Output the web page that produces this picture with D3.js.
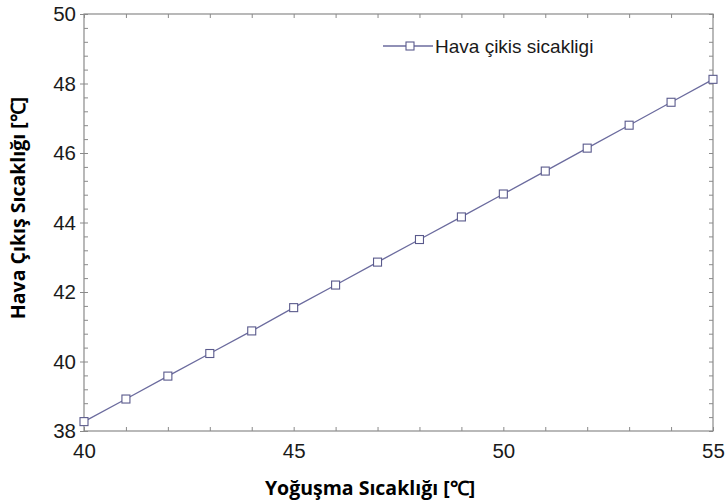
<!DOCTYPE html>
<html>
<head>
<meta charset="utf-8">
<script src="https://cdn.jsdelivr.net/npm/d3@7"></script>
<style>
  body { margin: 0; background: #fff; }
  svg { display: block; }
</style>
</head>
<body>
<div id="chart"></div>
<script>
// condensing temperature (x) vs air outlet temperature (y)
var condTemp = [40, 41, 42, 43, 44, 45, 46, 47, 48, 49, 50, 51, 52, 53, 54, 55]
var airOut = [38.27, 38.92, 39.58, 40.23, 40.88, 41.55, 42.2, 42.86, 43.51, 44.16, 44.82, 45.48, 46.14, 46.8, 47.46, 48.12]
var xTicks = [40, 45, 50, 55]
var yTicks = [38, 40, 42, 44, 46, 48, 50]
var seriesName = 'Hava çikis sicakligi'
var xTitle = 'Yoğuşma Sıcaklığı [℃]'
var yTitle = 'Hava Çıkış Sıcaklığı [℃]'

var W = 726, H = 504
var pLeft = 84, pRight = 713, pTop = 14, pBottom = 431
var axisCol = '#8a8a8a'
var lineCol = '#6b6b9e'

var svg = d3.select('#chart').append('svg')
  .attr('width', W)
  .attr('height', H)

var x = d3.scaleLinear().domain([40, 55]).range([pLeft, pRight])
var y = d3.scaleLinear().domain([38, 50]).range([pBottom, pTop])

var minorX = d3.range(40, 55.01, 1)
var minorY = d3.range(38, 50.01, 0.4)

// frame
svg.append('rect')
  .attr('x', pLeft).attr('y', pTop)
  .attr('width', pRight - pLeft).attr('height', pBottom - pTop)
  .attr('fill', 'none')
  .attr('stroke', axisCol)
  .attr('stroke-width', 1.2)

// axes, ticks pointing in
function styleAxis(g) {
  g.select('.domain').remove()
  g.selectAll('.tick line').attr('stroke', axisCol).attr('stroke-width', 1)
  g.selectAll('.tick text').remove()
}

svg.append('g').attr('transform', 'translate(0,' + pBottom + ')')
  .call(d3.axisBottom(x).tickValues(minorX).tickSizeInner(-4).tickSizeOuter(0))
  .call(styleAxis)
svg.append('g').attr('transform', 'translate(0,' + pTop + ')')
  .call(d3.axisTop(x).tickValues(minorX).tickSizeInner(-4).tickSizeOuter(0))
  .call(styleAxis)
svg.append('g').attr('transform', 'translate(' + pLeft + ',0)')
  .call(d3.axisLeft(y).tickValues(minorY).tickSizeInner(-4).tickSizeOuter(0))
  .call(styleAxis)
svg.append('g').attr('transform', 'translate(' + pRight + ',0)')
  .call(d3.axisRight(y).tickValues(minorY).tickSizeInner(-4).tickSizeOuter(0))
  .call(styleAxis)

// major ticks stick out a bit on the left
svg.append('g').attr('transform', 'translate(' + pLeft + ',0)')
  .call(d3.axisLeft(y).tickValues(yTicks).tickSizeInner(4).tickSizeOuter(0).tickPadding(4))
  .call(function(g) {
    g.select('.domain').remove()
    g.selectAll('.tick line').attr('stroke', axisCol)
    g.selectAll('.tick text')
      .attr('fill', '#1a1a1a')
      .style('font-family', 'Liberation Sans, Arial, sans-serif')
      .style('font-size', '20.5px')
  })

svg.append('g').attr('transform', 'translate(0,' + pBottom + ')')
  .call(d3.axisBottom(x).tickValues(xTicks).tickSize(0).tickPadding(12))
  .call(function(g) {
    g.select('.domain').remove()
    g.selectAll('.tick text')
      .attr('fill', '#1a1a1a')
      .style('font-family', 'Liberation Sans, Arial, sans-serif')
      .style('font-size', '20.5px')
  })

// series
var pts = condTemp.map((d, i) => ({x: d, y: airOut[i]}))

svg.append('path')
  .datum(pts)
  .attr('fill', 'none')
  .attr('stroke', lineCol)
  .attr('stroke-width', 1.3)
  .attr('d', d3.line().x(d => x(d.x)).y(d => y(d.y)))

svg.selectAll('.mk')
  .data(pts)
  .enter()
  .append('rect')
  .attr('class', 'mk')
  .attr('x', d => x(d.x) - 4)
  .attr('y', d => y(d.y) - 4)
  .attr('width', 8)
  .attr('height', 8)
  .attr('fill', '#fff')
  .attr('stroke', '#5a5a8c')
  .attr('stroke-width', 1.1)

// legend
var lg = svg.append('g').attr('transform', 'translate(383,46)')
lg.append('line')
  .attr('x1', 0).attr('x2', 50)
  .attr('stroke', lineCol).attr('stroke-width', 1.3)
lg.append('rect')
  .attr('x', 23).attr('y', -4).attr('width', 8).attr('height', 8)
  .attr('fill', '#fff').attr('stroke', '#5a5a8c').attr('stroke-width', 1.1)
lg.append('text')
  .attr('x', 52).attr('y', 0).attr('dy', '0.35em')
  .attr('fill', '#1a1a1a')
  .style('font-family', 'Liberation Sans, Arial, sans-serif')
  .style('font-size', '19px')
  .text(seriesName)

// axis titles
svg.append('text')
  .attr('x', 370).attr('y', 488).attr('dy', '0.35em')
  .attr('text-anchor', 'middle')
  .style('font-family', 'Open Sans, sans-serif')
  .style('font-weight', 'bold')
  .style('font-size', '19.5px')
  .text(xTitle)

svg.append('text')
  .attr('transform', 'translate(18,208) rotate(-90)')
  .attr('dy', '0.35em')
  .attr('text-anchor', 'middle')
  .style('font-family', 'Open Sans, sans-serif')
  .style('font-weight', 'bold')
  .style('font-size', '19.5px')
  .text(yTitle)
</script>
</body>
</html>
